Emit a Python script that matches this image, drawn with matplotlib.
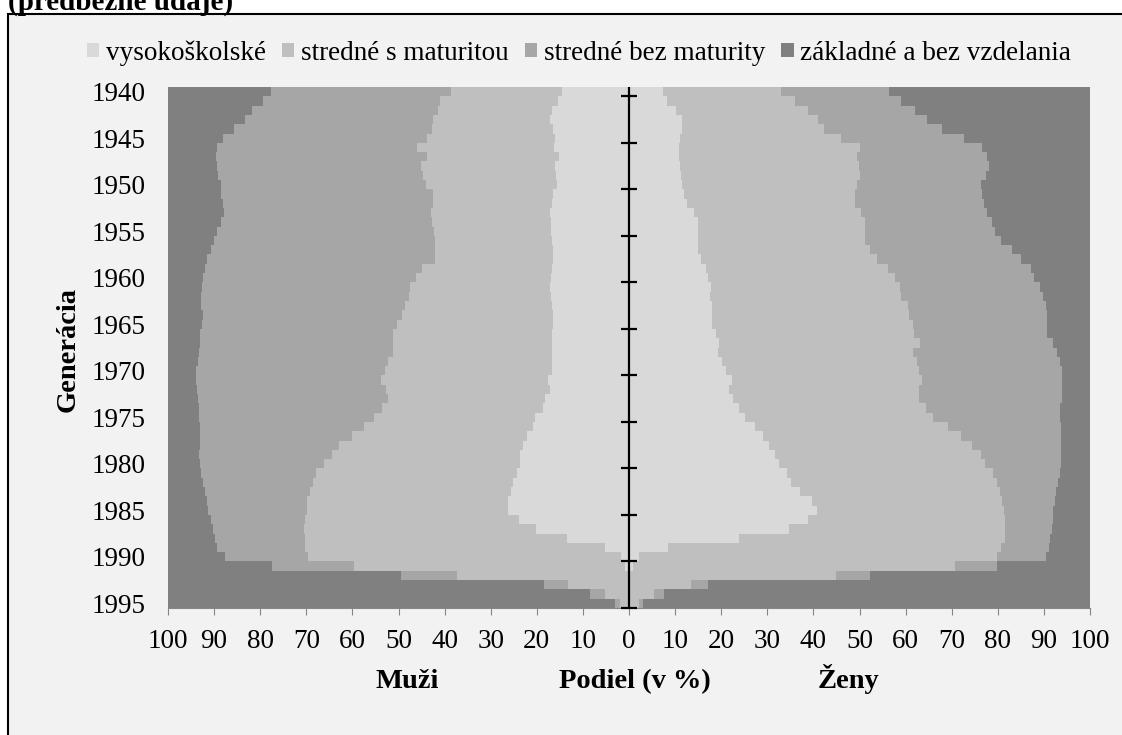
import numpy as np
import matplotlib
matplotlib.use("Agg")
import matplotlib.pyplot as plt
from matplotlib.patches import Rectangle

plt.rcParams['font.family'] = ['Liberation Serif', 'DejaVu Serif']

years = list(range(1940, 1996))
categories = ['vysokoškolské', 'stredné s maturitou', 'stredné bez maturity', 'základné a bez vzdelania']
colors = ['#d9d9d9', '#bfbfbf', '#a6a6a6', '#808080']

# Muži - podiel v % podľa vzdelania (generácie 1940-1995)
men_vys = [14.6, 15.5, 16.8, 17.1, 16.4, 16.1, 16.2, 15.2, 16.1, 15.9,
           15.7, 16.4, 16.8, 17.1, 17.0, 17.0, 16.8, 16.4, 16.4, 16.8,
           17.0, 17.1, 17.0, 16.8, 16.4, 16.4, 16.8, 16.6, 16.6, 16.8,
           16.8, 17.5, 17.1, 18.2, 18.7, 20.4, 20.9, 22.1, 23.1, 23.6,
           23.6, 24.4, 25.1, 25.5, 26.3, 26.3, 23.8, 20.2, 13.5, 5.2,
           1.8, 0.8, 0.0, 0.0, 0.0, 0.0]
men_mat = [24.0, 25.5, 24.6, 25.5, 26.4, 27.8, 29.8, 28.7, 29.1, 28.7,
           28.3, 26.2, 25.8, 25.9, 25.8, 25.4, 25.3, 25.7, 25.7, 28.0,
           29.2, 30.3, 30.7, 31.7, 32.8, 34.0, 34.5, 34.6, 34.5, 35.4,
           36.1, 36.4, 35.6, 34.1, 34.8, 35.0, 36.6, 38.0, 39.7, 40.9,
           42.5, 43.4, 43.4, 43.8, 43.6, 43.6, 46.4, 50.2, 56.8, 65.1,
           67.9, 58.9, 37.4, 13.2, 5.1, 2.0]
men_bez = [39.1, 38.3, 40.3, 40.7, 42.9, 44.2, 43.4, 45.7, 44.2, 44.6,
           44.6, 45.8, 45.4, 44.9, 45.6, 47.0, 47.9, 48.6, 49.4, 47.2,
           46.1, 45.3, 45.1, 44.3, 43.2, 42.3, 41.7, 41.8, 42.1, 41.4,
           41.0, 40.0, 41.1, 41.3, 39.8, 37.8, 35.6, 33.0, 30.3, 28.7,
           27.0, 25.1, 24.0, 22.7, 21.7, 21.4, 20.5, 19.9, 19.5, 19.0,
           17.9, 17.7, 12.1, 5.2, 3.4, 1.0]
men_zak = [22.3, 20.7, 18.3, 16.7, 14.3, 11.9, 10.6, 10.4, 10.6, 10.8,
           11.4, 11.6, 12.0, 12.1, 11.6, 10.6, 10.0, 9.3, 8.5, 8.0,
           7.7, 7.3, 7.2, 7.2, 7.6, 7.3, 7.0, 7.0, 6.8, 6.4,
           6.1, 6.1, 6.2, 6.4, 6.7, 6.8, 6.9, 6.9, 6.9, 6.8,
           6.9, 7.1, 7.5, 8.0, 8.4, 8.7, 9.3, 9.7, 10.2, 10.7,
           12.4, 22.6, 50.5, 81.6, 91.5, 97.0]

# Ženy
women_vys = [7.4, 8.2, 10.1, 11.6, 11.4, 11.1, 10.8, 10.8, 11.1, 11.3,
             11.6, 12.0, 12.5, 14.0, 15.0, 15.0, 15.0, 15.0, 15.6, 16.6,
             17.1, 17.8, 17.5, 18.1, 18.1, 18.1, 18.8, 19.5, 19.4, 20.1,
             21.0, 22.3, 21.7, 22.6, 23.9, 25.2, 27.3, 29.0, 30.4, 31.7,
             32.6, 34.3, 35.1, 37.1, 39.6, 40.7, 38.9, 34.6, 23.9, 8.5,
             2.2, 0.9, 0.0, 0.0, 0.0, 0.0]
women_mat = [25.6, 27.8, 28.7, 29.3, 31.0, 34.9, 39.3, 38.6, 38.8, 38.8,
             37.8, 37.0, 36.6, 36.3, 36.3, 36.3, 36.3, 37.3, 38.3, 39.5,
             40.5, 41.0, 41.6, 42.4, 42.6, 43.4, 43.1, 43.6, 42.3, 42.3,
             41.8, 41.2, 41.1, 40.2, 40.5, 40.8, 42.0, 43.0, 43.9, 44.7,
             44.6, 44.7, 44.7, 43.4, 41.4, 40.7, 42.7, 47.0, 57.7, 72.3,
             77.6, 69.8, 44.9, 13.4, 5.4, 2.2]
women_bez = [23.4, 23.0, 23.2, 23.7, 25.4, 26.7, 26.4, 28.2, 28.2, 27.3,
             27.0, 27.6, 27.8, 27.3, 27.4, 28.1, 29.4, 30.7, 31.1, 31.1,
             30.3, 30.4, 30.8, 29.9, 29.9, 29.1, 28.7, 28.9, 31.1, 31.1,
             31.2, 30.5, 31.2, 31.2, 29.1, 27.5, 24.4, 21.7, 19.5, 17.4,
             16.6, 14.5, 13.3, 12.1, 11.4, 10.6, 10.4, 10.2, 9.7, 10.3,
             10.6, 9.1, 7.4, 3.7, 2.3, 0.8]
women_zak = [43.6, 41.0, 38.0, 35.4, 32.2, 27.3, 23.5, 22.4, 21.9, 22.6,
             23.6, 23.4, 23.1, 22.4, 21.3, 20.6, 19.3, 17.0, 15.0, 12.8,
             12.1, 10.8, 10.1, 9.6, 9.4, 9.4, 9.4, 8.0, 7.2, 6.5,
             6.0, 6.0, 6.0, 6.0, 6.5, 6.5, 6.3, 6.3, 6.2, 6.2,
             6.2, 6.5, 6.9, 7.4, 7.6, 8.0, 8.0, 8.2, 8.7, 8.9,
             9.6, 20.2, 47.7, 82.9, 92.3, 97.0]

men = [men_vys, men_mat, men_bez, men_zak]
women = [women_vys, women_mat, women_bez, women_zak]

W, H = 1122, 735
FS = 19.5      # popisky osí a legenda
FSB = 20.5     # tučné názvy

fig = plt.figure(figsize=(W / 100, H / 100), dpi=100)
fig.patch.set_facecolor('white')

# ramček grafu
frame = Rectangle((8 / W, -0.05), 1.1, 1 - 14 / H + 0.05, transform=fig.transFigure,
                  facecolor='#f2f2f2', edgecolor='black', linewidth=1.5, zorder=-10)
fig.add_artist(frame)

ax = fig.add_axes([168 / W, (H - 608) / H, 922 / W, 521 / H])
ax.set_facecolor('#f2f2f2')

y = np.arange(len(years))
left_m = np.zeros(len(years))
left_w = np.zeros(len(years))
for i, cat in enumerate(categories):
    vm = np.array(men[i])
    vw = np.array(women[i])
    ax.barh(y, -vm, left=-left_m, height=1.0, color=colors[i], linewidth=0,
            antialiased=False, label=cat, zorder=2)
    ax.barh(y, vw, left=left_w, height=1.0, color=colors[i], linewidth=0,
            antialiased=False, zorder=2)
    left_m += vm
    left_w += vw

ax.set_xlim(-100, 100)
ax.set_ylim(len(years) - 0.5, -0.5)

xt = np.arange(-100, 101, 10)
ax.set_xticks(xt)
ax.set_xticklabels([str(abs(v)) for v in xt], fontsize=FS)
ax.tick_params(axis='x', length=5, color='#868686', pad=10)

ax.set_yticks(y[::5])
ax.set_yticklabels([str(v) for v in years[::5]], fontsize=FS)
ax.tick_params(axis='y', length=0, pad=16)

for s in ['left', 'top', 'right']:
    ax.spines[s].set_visible(False)
ax.spines['bottom'].set_color('#868686')

# stredová os so značkami
ax.axvline(0, color='black', linewidth=1.6, zorder=5)
tick_pos = np.arange(0.5, len(years), 5)
ax.plot(np.zeros(len(tick_pos)), tick_pos, linestyle='none', marker='_',
        markersize=12, markeredgewidth=1.6, color='black', zorder=6, clip_on=False)

ax.legend(loc='center', bbox_to_anchor=(579 / W, 1 - 53 / H), bbox_transform=fig.transFigure,
          ncol=4, frameon=False, fontsize=FS, handlelength=0.45, handleheight=0.45,
          handletextpad=0.25, columnspacing=0.6, borderaxespad=0)

fig.text(68 / W, 1 - 350 / H, 'Generácia', rotation=90, ha='center', va='center',
         fontsize=FSB, fontweight='bold')
fig.text(407 / W, 1 - 688 / H, 'Muži', ha='center', va='baseline', fontsize=FSB, fontweight='bold')
fig.text(635 / W, 1 - 688 / H, 'Podiel (v %)', ha='center', va='baseline', fontsize=FSB, fontweight='bold')
fig.text(848 / W, 1 - 688 / H, 'Ženy', ha='center', va='baseline', fontsize=FSB, fontweight='bold')

fig.text(8 / W, 1 - 10 / H, '(predbežné údaje)', ha='left', va='baseline',
         fontsize=21, fontweight='bold')

fig.savefig('out.png', dpi=100)
